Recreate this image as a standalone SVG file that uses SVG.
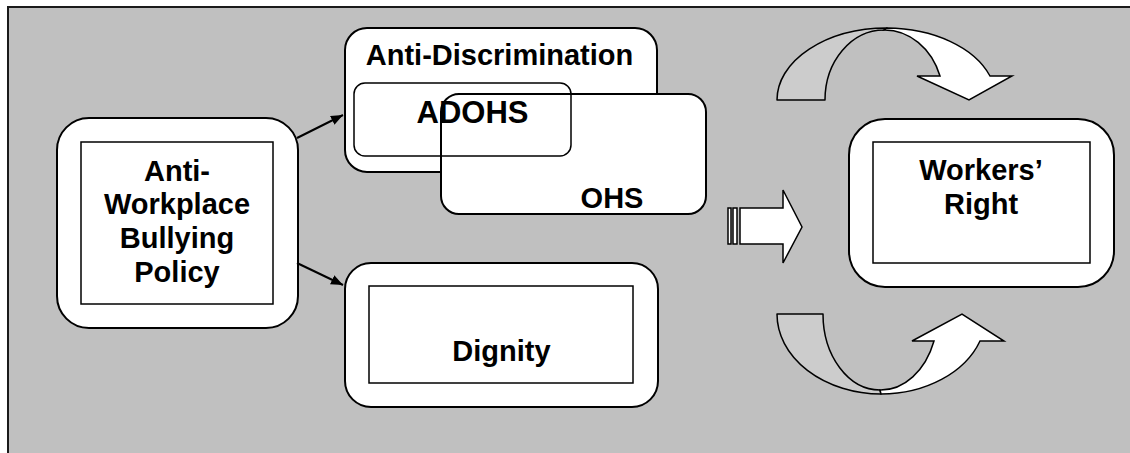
<svg xmlns="http://www.w3.org/2000/svg" width="1130" height="453" viewBox="0 0 1130 453">
<defs>
<style>
.bg{fill:#c0c0c0;stroke:#1a1a1a;stroke-width:2}
.box{fill:#fff;stroke:#000;stroke-width:2}
.inner{fill:#fff;stroke:#000;stroke-width:1.5}
.open{fill:none;stroke:#000;stroke-width:1.5}
.t{font-family:"Liberation Sans",Arial,sans-serif;font-weight:bold;font-size:29px;fill:#000;text-anchor:middle}
.conn{stroke:#000;stroke-width:2;fill:none}
.back{fill:#cccccc;stroke:#000;stroke-width:1.5;stroke-linejoin:round}
.front{fill:#fff;stroke:#000;stroke-width:1.5;stroke-linejoin:miter}
</style>
<marker id="ah" viewBox="0 0 12 10" refX="12" refY="5" markerWidth="12" markerHeight="10" markerUnits="userSpaceOnUse" orient="auto">
<path d="M0,0 L12,5 L0,10 Z" fill="#000"/>
</marker>
</defs>
<rect class="bg" x="8" y="7" width="1130" height="455"/>

<g id="node-policy">
<rect class="box" x="57" y="118" width="241" height="210" rx="32" ry="32"/>
<rect class="inner" x="81" y="142" width="192" height="162"/>
<text class="t" x="177" y="181">Anti-</text>
<text class="t" x="177" y="214">Workplace</text>
<text class="t" x="177" y="248">Bullying</text>
<text class="t" x="177" y="282">Policy</text>
</g>

<g id="node-antidiscrimination">
<rect class="box" x="345" y="28" width="312" height="144" rx="22" ry="22"/>
<text class="t" x="499.5" y="65">Anti-Discrimination</text>
</g>

<g id="node-ohs">
<rect class="box" x="441" y="94" width="265" height="120" rx="18" ry="18"/>
<text class="t" x="612" y="208">OHS</text>
</g>

<g id="node-adohs">
<rect class="open" x="354" y="83" width="217" height="73" rx="11" ry="11"/>
<text class="t" x="472.5" y="123" style="font-size:31px">ADOHS</text>
</g>

<g id="node-dignity">
<rect class="box" x="345" y="263" width="313" height="144" rx="26" ry="26"/>
<rect class="inner" x="369" y="286" width="264" height="97"/>
<text class="t" x="501.5" y="361">Dignity</text>
</g>

<g id="node-workers">
<rect class="box" x="849" y="119" width="265" height="168" rx="36" ry="36"/>
<rect class="inner" x="873" y="142" width="217" height="121"/>
<text class="t" x="981" y="180">Workers’</text>
<text class="t" x="981" y="214">Right</text>
</g>

<g id="connectors">
<line class="conn" x1="297" y1="138" x2="343" y2="115" marker-end="url(#ah)"/>
<line class="conn" x1="297" y1="263" x2="343" y2="285" marker-end="url(#ah)"/>
<g id="striped-arrow">
<rect class="front" x="728" y="208" width="3" height="36"/>
<rect class="front" x="733" y="208" width="4" height="36"/>
<path class="front" d="M740,208 L783,208 L783,190 L802,227 L783,263 L783,244 L740,244 Z"/>
</g>
<g id="curved-down-arrow">
<path class="back" d="M777,100 A110,72 0 0 1 887,28 L884,30 A59,70 0 0 0 825,100 Z"/>
<path class="front" d="M887,28 A110,72 0 0 1 990,76 L1012,76 L969,100 L917,76 L940,76 A59,70 0 0 0 884,30 Z"/>
</g>
<g id="curved-up-arrow">
<path class="back" d="M777,314 L823,314 A57,76 0 0 0 880,390 L881,394 A105,80 0 0 1 777,314 Z"/>
<path class="front" d="M881,394 A105,80 0 0 0 980,341 L1004,341 L962,314 L912,341 L934,341 A57,76 0 0 1 880,390 Z"/>
</g>
</g>
</svg>
